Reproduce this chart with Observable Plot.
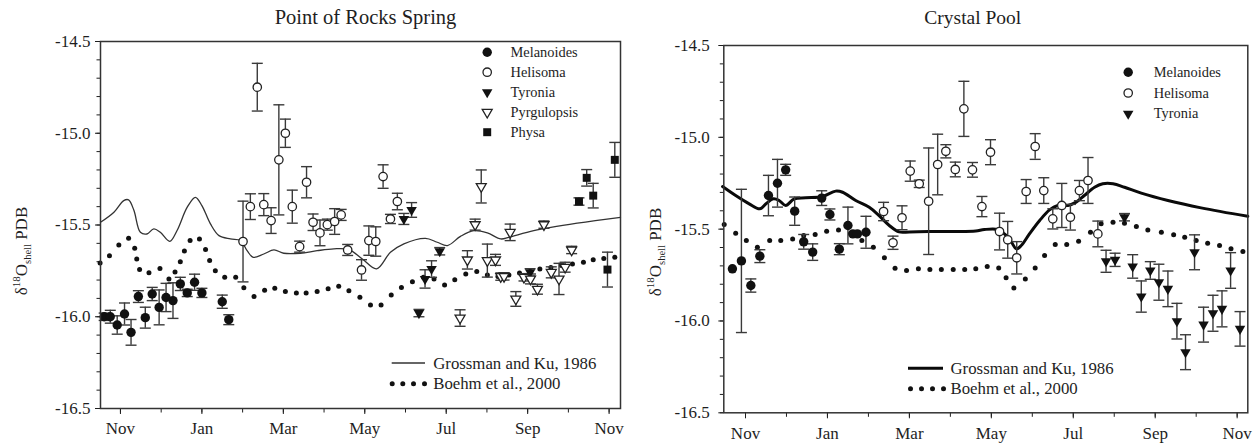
<!DOCTYPE html>
<html><head><meta charset="utf-8">
<script src="https://cdn.jsdelivr.net/npm/d3@7"></script>
<script src="https://cdn.jsdelivr.net/npm/@observablehq/plot@0.6"></script>
<style>
body{margin:0;background:#fff;}
#wrap{position:relative;width:1257px;height:445px;overflow:hidden;background:#fff;}
#left,#right{position:absolute;top:0;}
#left{left:0;} #right{left:630px;}
#wrap svg, #wrap svg text, #wrap svg g { font-family: "Liberation Serif", "Times New Roman", serif !important; }
</style></head><body><div id="wrap"><div id="left"></div><div id="right"></div></div>
<script>
// ---------- tick definitions ----------
const monthTicks = [0, 2, 4, 6, 8, 10, 12];
const monthLabels = ["Nov", "Jan", "Mar", "May", "Jul", "Sep", "Nov"];
const monthMinor = [0, 1, 2, 3, 4, 5, 6, 7, 8, 9, 10, 11, 12];
const yTicks = [-14.5, -15.0, -15.5, -16.0, -16.5];
const yMinor = [-14.5, -14.6, -14.7, -14.8, -14.9, -15.0, -15.1, -15.2, -15.3, -15.4, -15.5,
  -15.6, -15.7, -15.8, -15.9, -16.0, -16.1, -16.2, -16.3, -16.4, -16.5];

// ---------- Point of Rocks Spring: [month since Nov 1, d18O, error] ----------
const prMelanoides = [[-0.40,-16.00,0.02],[-0.25,-16.00,0.035],[-0.08,-16.045,0.05],[0.10,-15.985,0.06],[0.26,-16.085,0.07],
  [0.44,-15.89,0.032],[0.61,-16.005,0.057],[0.78,-15.876,0.036],[0.95,-15.949,0.095],[1.12,-15.895,0.077],[1.29,-15.912,0.097],
  [1.47,-15.821,0.036],[1.64,-15.87,0.02],[1.82,-15.812,0.044],[2.00,-15.87,0.025],[2.50,-15.918,0.036],[2.66,-16.016,0.027]];
const prHelisoma = [[3.01,-15.59,0.22],[3.19,-15.40,0.07],[3.36,-14.749,0.13],[3.52,-15.389,0.06],[3.70,-15.476,0.07],
  [3.89,-15.145,0.30],[4.05,-15.00,0.077],[4.22,-15.40,0.09],[4.40,-15.618,0.03],[4.57,-15.267,0.085],[4.73,-15.485,0.045],
  [4.90,-15.543,0.07],[5.08,-15.498,0.03],[5.26,-15.481,0.07],[5.42,-15.445,0.03],[5.58,-15.636,0.03],[5.92,-15.745,0.056],
  [6.10,-15.585,0.08],[6.27,-15.59,0.08],[6.45,-15.236,0.064],[6.63,-15.467,0.025],[6.80,-15.372,0.045]];
const prTyronia = [[6.96,-15.467,0.03],[7.15,-15.418,0.04],[7.33,-15.98,0.02],[7.48,-15.794,0.05],[7.64,-15.74,0.045],
  [7.84,-15.643,0.02],[10.06,-15.758,0.02]];
const prPyrgulopsis = [[8.34,-16.007,0.045],[8.52,-15.69,0.05],[8.71,-15.498,0.03],[8.86,-15.29,0.09],[9.01,-15.694,0.09],
  [9.21,-15.69,0.03],[9.34,-15.781,0.02],[9.42,-15.78,0.02],[9.57,-15.54,0.045],[9.71,-15.903,0.04],[9.91,-15.785,0.02],
  [10.07,-15.794,0.027],[10.24,-15.85,0.027],[10.40,-15.498,0.02],[10.58,-15.758,0.03],[10.77,-15.794,0.085],
  [10.92,-15.73,0.027],[11.08,-15.636,0.02]];
const prPhysa = [[11.26,-15.372,0.02],[11.45,-15.243,0.045],[11.61,-15.34,0.067],[11.96,-15.743,0.095],[12.14,-15.145,0.095]];
const prGrossman = [[-0.49,-15.485],[-0.16,-15.43],[0.08,-15.367],[0.20,-15.363],[0.33,-15.42],[0.49,-15.54],[0.65,-15.549],
  [0.82,-15.521],[0.98,-15.54],[1.21,-15.589],[1.39,-15.53],[1.64,-15.403],[1.84,-15.349],[2.00,-15.394],[2.21,-15.494],
  [2.42,-15.558],[2.70,-15.576],[2.95,-15.585],[3.11,-15.64],[3.26,-15.676],[3.52,-15.658],[3.77,-15.636],[4.01,-15.654],
  [4.42,-15.654],[4.83,-15.64],[5.24,-15.63],[5.61,-15.634],[5.94,-15.685],[6.29,-15.739],[6.63,-15.649],[6.96,-15.603],
  [7.49,-15.573],[7.78,-15.594],[8.03,-15.612],[8.35,-15.562],[8.68,-15.531],[9.01,-15.543],[9.34,-15.576],[9.54,-15.567],
  [10.15,-15.531],[11.22,-15.49],[12.28,-15.458]];
const prBoehm = [[-0.50,-15.707],[-0.27,-15.667],[-0.04,-15.609],[0.20,-15.572],[0.35,-15.627],[0.40,-15.685],[0.47,-15.743],
  [0.70,-15.76],[0.97,-15.737],[1.19,-15.794],[1.34,-15.756],[1.47,-15.70],[1.57,-15.642],[1.71,-15.585],[1.94,-15.576],
  [2.09,-15.634],[2.19,-15.694],[2.33,-15.749],[2.56,-15.785],[2.83,-15.785],[3.03,-15.842],[3.28,-15.889],[3.54,-15.855],
  [3.79,-15.845],[4.05,-15.863],[4.32,-15.87],[4.56,-15.87],[4.83,-15.863],[5.10,-15.848],[5.36,-15.834],[5.61,-15.858],
  [5.88,-15.894],[6.14,-15.936],[6.40,-15.936],[6.65,-15.881],[6.90,-15.84],[7.17,-15.809],[7.44,-15.785],[7.70,-15.794],
  [7.96,-15.827],[8.21,-15.798],[8.48,-15.767],[8.75,-15.754],[9.01,-15.772],[9.27,-15.78],[9.54,-15.772],[9.80,-15.761],
  [10.06,-15.754],[10.30,-15.74],[10.57,-15.731],[10.83,-15.721],[11.10,-15.712],[11.37,-15.703],[11.61,-15.689],
  [11.87,-15.682],[12.14,-15.676]];

// ---------- Crystal Pool ----------
const cpMelanoides = [[-0.32,-15.716,0],[-0.10,-15.673,0.39],[0.13,-15.807,0.036],[0.35,-15.647,0.035],[0.56,-15.317,0.11],
  [0.78,-15.25,0.13],[0.98,-15.177,0.03],[1.20,-15.402,0.077],[1.42,-15.569,0.04],[1.64,-15.625,0.045],[1.86,-15.331,0.04],
  [2.06,-15.42,0.03],[2.29,-15.609,0.03],[2.50,-15.48,0.10],[2.62,-15.526,0],[2.73,-15.526,0],[2.94,-15.517,0.087]];
const cpHelisoma = [[3.37,-15.404,0.05],[3.60,-15.574,0.036],[3.82,-15.438,0.065],[4.02,-15.184,0.055],[4.24,-15.253,0.02],
  [4.47,-15.348,0.29],[4.69,-15.148,0.165],[4.89,-15.076,0.036],[5.12,-15.175,0.04],[5.33,-14.845,0.15],[5.54,-15.177,0.04],
  [5.77,-15.377,0.055],[5.98,-15.081,0.068],[6.20,-15.513,0.10],[6.40,-15.558,0.10],[6.62,-15.656,0.088],[6.85,-15.295,0.065],
  [7.07,-15.05,0.07],[7.28,-15.29,0.07],[7.50,-15.444,0.055],[7.72,-15.371,0.12],[7.93,-15.435,0.07],[8.15,-15.29,0.055],
  [8.36,-15.235,0.125],[8.60,-15.526,0.07]];
const cpTyronia = [[8.80,-15.675,0.06],[9.02,-15.667,0.036],[9.25,-15.435,0.02],[9.45,-15.703,0.064],[9.66,-15.867,0.085],
  [9.88,-15.725,0.048],[10.09,-15.789,0.098],[10.31,-15.825,0.097],[10.53,-16.001,0.097],[10.74,-16.17,0.095],
  [10.96,-15.626,0.095],[11.18,-16.02,0.095],[11.41,-15.958,0.098],[11.63,-15.934,0.098],[11.84,-15.725,0.097],
  [12.07,-16.043,0.094]];
const cpGrossman = [[-0.56,-15.268],[-0.24,-15.317],[0.09,-15.362],[0.35,-15.389],[0.50,-15.362],[0.68,-15.335],[0.82,-15.344],
  [0.98,-15.371],[1.19,-15.335],[1.47,-15.329],[1.88,-15.322],[2.20,-15.293],[2.37,-15.299],[2.69,-15.344],[3.02,-15.381],
  [3.26,-15.426],[3.51,-15.48],[3.75,-15.515],[4.00,-15.515],[4.48,-15.513],[5.13,-15.513],[5.62,-15.51],[5.83,-15.502],
  [6.16,-15.502],[6.32,-15.526],[6.49,-15.571],[6.61,-15.607],[6.73,-15.589],[6.93,-15.526],[7.18,-15.453],[7.42,-15.395],
  [7.62,-15.371],[7.87,-15.371],[8.07,-15.353],[8.27,-15.317],[8.52,-15.272],[8.72,-15.253],[8.97,-15.253],[9.25,-15.272],
  [9.66,-15.304],[10.31,-15.344],[11.12,-15.384],[12.26,-15.43]];
const cpBoehm = [[-0.52,-15.475],[-0.24,-15.522],[0.02,-15.562],[0.29,-15.599],[0.59,-15.562],[0.86,-15.562],[1.15,-15.553],
  [1.42,-15.535],[1.70,-15.529],[1.98,-15.511],[2.27,-15.504],[2.57,-15.522],[2.84,-15.562],[3.12,-15.599],[3.39,-15.656],
  [3.65,-15.713],[3.93,-15.725],[4.22,-15.716],[4.50,-15.72],[4.78,-15.72],[5.07,-15.72],[5.35,-15.72],[5.62,-15.716],
  [5.90,-15.704],[6.18,-15.711],[6.36,-15.765],[6.55,-15.82],[6.83,-15.771],[7.07,-15.711],[7.30,-15.644],[7.56,-15.584],
  [7.84,-15.584],[8.13,-15.566],[8.42,-15.517],[8.68,-15.471],[8.97,-15.462],[9.25,-15.468],[9.54,-15.486],[9.82,-15.504],
  [10.15,-15.517],[10.45,-15.531],[10.72,-15.544],[11.00,-15.562],[11.28,-15.577],[11.57,-15.589],[11.85,-15.607],
  [12.14,-15.622]];

const FONT = '"Liberation Serif", "Times New Roman", serif';
const INK = "#1e1e1e";
const ERR = "#3a3a3a";
const cap = {draw(ctx) { ctx.moveTo(-5.5, 0); ctx.lineTo(5.5, 0); }};

const sym = {
  Melanoides: {symbol: "circle", fill: "#111", stroke: "none", r: 4.7, rotate: 0},
  Helisoma: {symbol: "circle", fill: "white", stroke: "#222", r: 4.2, rotate: 0},
  Tyronia: {symbol: "triangle", fill: "#111", stroke: "none", r: 3.9, rotate: 180},
  Pyrgulopsis: {symbol: "triangle", fill: "white", stroke: "#222", r: 3.7, rotate: 180},
  Physa: {symbol: "square", fill: "#111", stroke: "none", r: 4.5, rotate: 0}
};

function panel(cfg) {
  const X = d => d[0], Y = d => d[1];
  const marks = [];
  // axes
  marks.push(Plot.axisY(yMinor, {tickSize: 3.5, tickFormat: () => "", label: null, stroke: INK}));
  marks.push(Plot.axisY(yTicks, {tickSize: 5, tickPadding: cfg.yPad, tickFormat: d => d.toFixed(1), label: null,
    fontSize: 17, fontFamily: FONT, stroke: INK, fill: INK}));
  marks.push(Plot.axisX(monthMinor, {tickSize: 4.5, tickFormat: () => "", label: null, stroke: INK}));
  marks.push(Plot.axisX(monthTicks, {tickSize: 6, tickPadding: cfg.xPad, tickFormat: (d, i) => monthLabels[i], label: null,
    fontSize: 17, fontFamily: FONT, stroke: INK, fill: INK}));
  // reference curves
  marks.push(Plot.line(cfg.grossman, {x: X, y: Y, curve: "catmull-rom", stroke: cfg.gColor, strokeWidth: cfg.gWidth}));
  marks.push(Plot.dot(cfg.boehm, {x: X, y: Y, r: 2.5, fill: "#111"}));
  // error bars
  for (const s of cfg.species) {
    const we = s.data.filter(d => d[2] > 0);
    marks.push(Plot.ruleX(we, {x: X, y1: d => d[1] - d[2], y2: d => d[1] + d[2], stroke: ERR, strokeWidth: 1.4}));
    marks.push(Plot.dot(we, {x: X, y: d => d[1] + d[2], symbol: cap, stroke: ERR, strokeWidth: 1.4, r: 3}));
    marks.push(Plot.dot(we, {x: X, y: d => d[1] - d[2], symbol: cap, stroke: ERR, strokeWidth: 1.4, r: 3}));
  }
  // points
  for (const s of cfg.species) {
    const st = sym[s.name];
    marks.push(Plot.dot(s.data, {x: X, y: Y, symbol: st.symbol, fill: st.fill, stroke: st.stroke, strokeWidth: 1.3,
      r: st.r, rotate: st.rotate}));
  }
  // species legend
  cfg.species.forEach((s, i) => {
    const st = sym[s.name];
    const dy = cfg.leg.dy0 + i * cfg.leg.step;
    marks.push(Plot.dot([s.name], {frameAnchor: "top-left", dx: cfg.leg.symDx, dy, symbol: st.symbol, fill: st.fill,
      stroke: st.stroke, strokeWidth: 1.3, r: st.r, rotate: st.rotate}));
    marks.push(Plot.text([s.name], {frameAnchor: "top-left", dx: cfg.leg.textDx, dy, text: d => d, textAnchor: "start",
      lineAnchor: "middle", fontSize: 14.4, fontFamily: FONT, fill: INK}));
  });
  // line legend texts and dots
  marks.push(Plot.text(["Grossman and Ku, 1986"], {frameAnchor: "top-left", dx: cfg.lleg.textDx, dy: cfg.lleg.dy1,
    text: d => d, textAnchor: "start", lineAnchor: "middle", fontSize: 16.8, fontFamily: FONT, fill: INK}));
  marks.push(Plot.text(["Boehm et al., 2000"], {frameAnchor: "top-left", dx: cfg.lleg.textDx, dy: cfg.lleg.dy2,
    text: d => d, textAnchor: "start", lineAnchor: "middle", fontSize: 16.8, fontFamily: FONT, fill: INK}));
  for (const ddx of cfg.lleg.dotDx) {
    marks.push(Plot.dot([0], {frameAnchor: "top-left", dx: ddx, dy: cfg.lleg.dy2, r: 2.5, fill: "#111"}));
  }
  // title
  marks.push(Plot.text([cfg.title], {frameAnchor: "top", dx: cfg.titleDx, dy: cfg.titleDy, text: d => d,
    lineAnchor: "bottom", fontSize: cfg.titleSize, fontFamily: FONT, fill: INK}));
  marks.push(Plot.frame({stroke: "#333", strokeWidth: 1.5}));

  const svg = Plot.plot({
    width: cfg.width, height: 445,
    marginLeft: cfg.ml, marginRight: cfg.mr, marginTop: cfg.mt, marginBottom: cfg.mb,
    x: {domain: cfg.xDomain, axis: null},
    y: {domain: [-16.5, -14.5], axis: null},
    style: {fontFamily: FONT, fontSize: "17px", color: INK, background: "white", overflow: "visible"},
    marks
  });
  const g = d3.select(svg);
  // legend line sample
  g.append("line").attr("x1", cfg.lleg.lineX1).attr("x2", cfg.lleg.lineX2)
    .attr("y1", cfg.mt + cfg.lleg.dy1).attr("y2", cfg.mt + cfg.lleg.dy1)
    .attr("stroke", cfg.gColor).attr("stroke-width", cfg.gWidth);
  // y-axis label
  const t = g.append("text").attr("transform", `translate(${cfg.labX},${cfg.labY}) rotate(-90)`)
    .attr("text-anchor", "middle").attr("font-family", FONT).attr("font-size", 17).attr("fill", INK);
  t.append("tspan").text("δ");
  t.append("tspan").attr("font-size", 11).attr("dy", -7).text("18");
  t.append("tspan").attr("dy", 7).text("O");
  t.append("tspan").attr("font-size", 10.5).attr("dy", 4).text("shell");
  t.append("tspan").attr("dy", -4).text(" PDB");
  return svg;
}

document.getElementById("left").appendChild(panel({
  width: 628, ml: 100, mr: 8, mt: 41, mb: 37, xDomain: [-0.49, 12.28],
  yPad: 5, xPad: 7.5,
  title: "Point of Rocks Spring", titleSize: 20.5, titleDx: 5, titleDy: -17.5,
  gColor: "#333", gWidth: 1.3,
  grossman: prGrossman, boehm: prBoehm,
  species: [{name: "Melanoides", data: prMelanoides}, {name: "Helisoma", data: prHelisoma},
    {name: "Tyronia", data: prTyronia}, {name: "Pyrgulopsis", data: prPyrgulopsis}, {name: "Physa", data: prPhysa}],
  leg: {symDx: 386.7, textDx: 410, dy0: 10.7, step: 20},
  lleg: {textDx: 332.7, dy1: 322, dy2: 342.3, dotDx: [291.7, 302.3, 313, 324], lineX1: 391.7, lineX2: 425},
  labX: 27, labY: 251
}));
document.getElementById("right").appendChild(panel({
  width: 627, ml: 93.3, mr: 9.7, mt: 45, mb: 32.7, xDomain: [-0.53, 12.26],
  yPad: 9, xPad: 8.5,
  title: "Crystal Pool", titleSize: 19.5, titleDx: -13, titleDy: -22,
  gColor: "#0a0a0a", gWidth: 3,
  grossman: cpGrossman, boehm: cpBoehm,
  species: [{name: "Melanoides", data: cpMelanoides}, {name: "Helisoma", data: cpHelisoma}, {name: "Tyronia", data: cpTyronia}],
  leg: {symDx: 404.4, textDx: 430, dy0: 26.7, step: 20.8},
  lleg: {textDx: 226.7, dy1: 323.3, dy2: 343.3, dotDx: [186.7, 197.7, 208.7, 219.7], lineX1: 278, lineX2: 313},
  labX: 31, labY: 252
}));
</script></body></html>
